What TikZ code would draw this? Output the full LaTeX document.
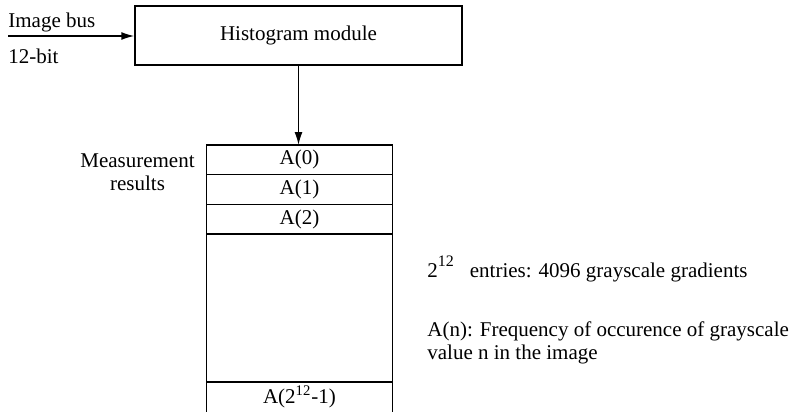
\documentclass[tikz,border=0pt]{standalone}
\usepackage{fontspec}
\setmainfont{Liberation Serif}
\usetikzlibrary{arrows.meta, positioning}

\tikzset{
  modbox/.style={draw, line width=0.7pt, minimum width=163.5pt, minimum height=29.5pt, inner sep=0pt},
  cell/.style={draw, line width=0.7pt, minimum width=93pt, minimum height=14.85pt, inner sep=0pt, outer sep=0pt},
  lbl/.style={inner sep=0pt},
  flow/.style={-{Latex[length=6.5pt,width=4pt]}, line width=0.7pt},
}

\begin{document}
\begin{tikzpicture}[x=0.5pt, y=-0.5pt, font=\fontsize{10.5}{11.5}\selectfont]
    \useasboundingbox (0,0) rectangle (801,412);
    % module and input bus
    \node[modbox] (hist) at (298.5,35.5) {Histogram module};
    \coordinate (busin) at (8,36);
    \draw[flow] (busin) -- (busin -| hist.west);
    \node[lbl, anchor=base west] (buslbl) at (8,27) {Image bus};
    \node[lbl, anchor=base west] (bitlbl) at (8,63) {12-bit};
    % result table
    \node[cell] (a0) at (299.5,159.85) {A(0)};
    \node[cell, below=0pt of a0] (a1) {A(1)};
    \node[cell, below=0pt of a1] (a2) {A(2)};
    \coordinate (sep) at (0,382);
    \coordinate (bot) at (0,412);
    \draw[line width=0.7pt] (a2.south west) -- (a2.south west |- bot);
    \draw[line width=0.7pt] (a2.south east) -- (a2.south east |- bot);
    \draw[line width=0.7pt] (a2.south west |- sep) -- (a2.south east |- sep);
    \node[lbl] (alast) at (299.5,397) {A(2\textsuperscript{12}-1)};
    \draw[flow] (hist.south) -- (hist.south |- a0.north);
    \node[lbl, align=center, anchor=base] (meas) at (137.5,190) {Measurement\\results};
    % notes
    \node[lbl, anchor=base west] (entries) at (427,277)
        {2\raisebox{5.5pt}{\footnotesize 12}\hspace{8pt}entries: 4096 grayscale gradients};
    \node[lbl, anchor=base west, align=left] (freq) at (427,359)
        {A(n): Frequency of occurence of grayscale\\value n in the image};
\end{tikzpicture}
\end{document}
